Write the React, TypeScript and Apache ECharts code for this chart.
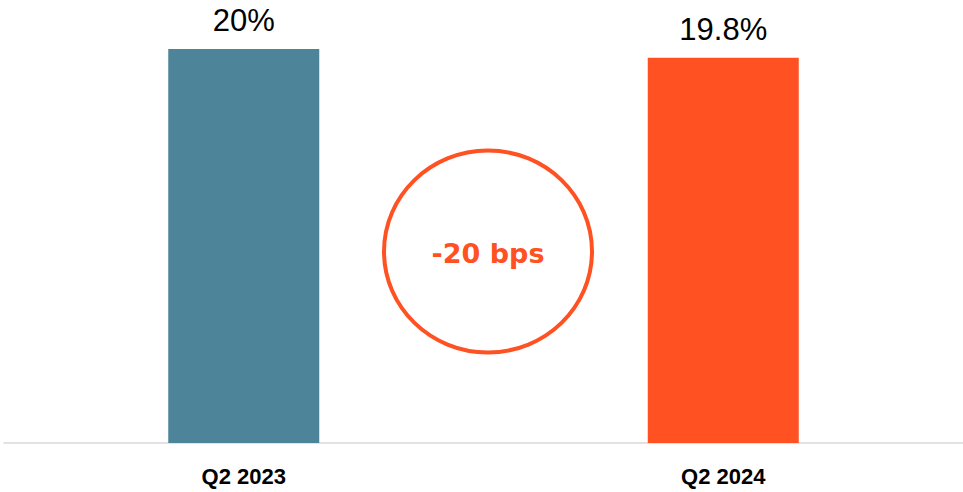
import React, { useEffect, useRef } from "react";
import * as echarts from "echarts";

const categories = ["Q2 2023", "Q2 2024"];
const values = [20, 19.8];
const valueLabels = ["20%", "19.8%"];
const barColors = ["#4E849A", "#FF5121"];
const changeText = "-20 bps";

export default function App() {
  const ref = useRef<HTMLDivElement>(null);
  useEffect(() => {
    if (!ref.current) return;
    const chart = echarts.init(ref.current, null, { renderer: "svg" });
    chart.setOption({
      animation: false,
      backgroundColor: "#ffffff",
      grid: { left: 4, right: 0, top: 49, bottom: 49, containLabel: false },
      xAxis: {
        type: "category",
        data: categories,
        axisLine: { show: true, lineStyle: { color: "#D9D9D9", width: 1.5 } },
        axisTick: { show: false },
        axisLabel: {
          color: "#000000",
          fontFamily: "Liberation Sans",
          fontWeight: "bold",
          fontSize: 22,
          margin: 22,
        },
      },
      yAxis: {
        type: "value",
        min: 11,
        max: 20,
        show: false,
        splitLine: { show: false },
      },
      series: [
        {
          type: "bar",
          barWidth: 151,
          data: values.map((v, i) => ({
            value: v,
            itemStyle: { color: barColors[i] },
            label: { formatter: valueLabels[i] },
          })),
          label: {
            show: true,
            position: "top",
            distance: 13,
            color: "#000000",
            fontFamily: "Liberation Sans",
            fontSize: 31,
          },
        },
      ],
      graphic: [
        {
          type: "ellipse",
          shape: { cx: 488, cy: 251.5, rx: 104, ry: 101 },
          style: { fill: "none", stroke: "#FF5121", lineWidth: 4 },
          z: 10,
        },
        {
          type: "text",
          x: 488,
          y: 253,
          style: {
            text: changeText,
            fill: "#FF5121",
            font: "bold 27px 'DejaVu Sans'",
            align: "center",
            verticalAlign: "middle",
          },
          z: 11,
        },
      ],
    });
    return () => chart.dispose();
  }, []);
  return <div ref={ref} style={{ width: 963, height: 492, position: "fixed", left: 0, top: 0 }} />;
}
